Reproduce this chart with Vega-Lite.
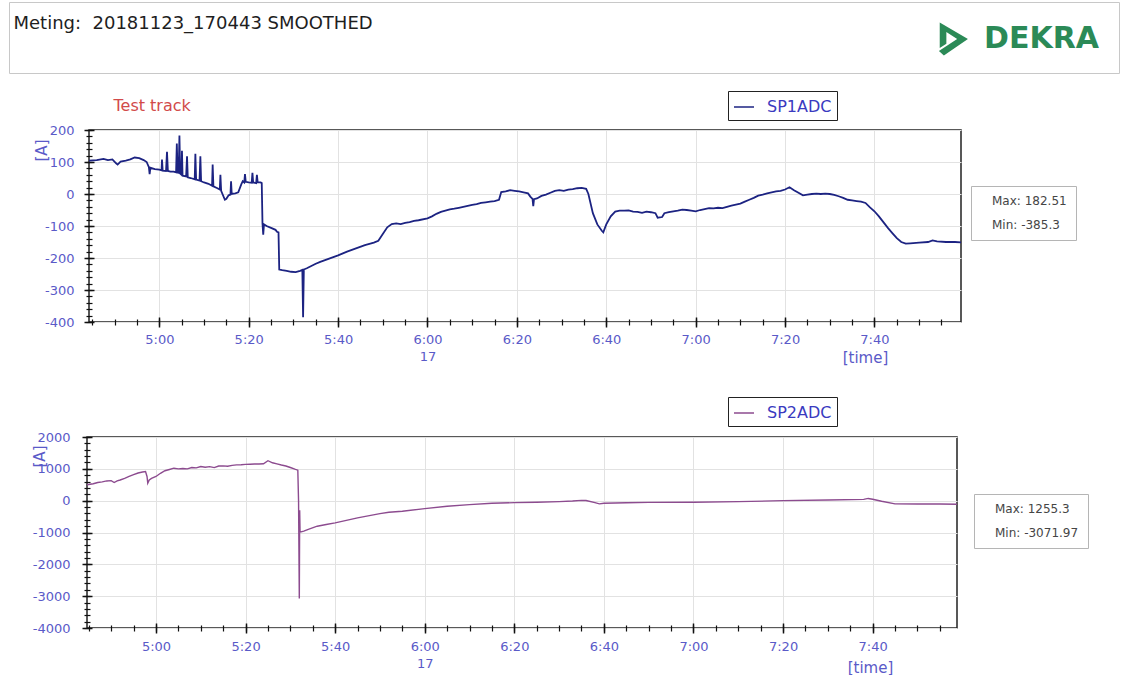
{
  "$schema": "https://vega.github.io/schema/vega-lite/v6.json",
  "background": "white",
  "padding": {"left": 8, "top": 1, "right": 0, "bottom": 0},
  "spacing": 15,
  "resolve": {"scale": {"color": "independent", "shape": "independent"}},
  "vconcat": [
    {
      "width": 1110,
      "height": 71,
      "view": {"stroke": "#c8c8c8", "strokeWidth": 1},
      "data": {"values": [{"brand": "DEKRA"}]},
      "mark": {"type": "point", "opacity": 0, "filled": true, "color": "#2b8a57"},
      "encoding": {
        "x": {"field": "brand", "type": "nominal", "axis": {"orient": "top", "labels": false, "ticks": false, "domain": false, "grid": false, "title": "Meting:\u00a0 20181123_170443 SMOOTHED", "titleX": 4, "titleY": 26, "titleAlign": "left", "titleAnchor": "start", "titleBaseline": "alphabetic", "titleAngle": 0, "titleFont": "DejaVu Sans", "titleFontSize": 18, "titleFontWeight": "normal", "titleColor": "#1e1e1e"}},
        "shape": {
          "field": "brand", "type": "nominal",
          "scale": {"domain": ["DEKRA"], "range": ["M -0.8 -1 L 0.9 0 L -0.55 1 L -0.85 0.72 L 0.25 0 L -0.4 -0.42 L -0.4 0.28 L -0.8 0.55 Z"]},
          "legend": {"orient": "top-right", "offset": 20, "title": null, "padding": 0, "symbolSize": 1100, "symbolOpacity": 1, "symbolFillColor": "#2b8a57", "symbolStrokeColor": "#2b8a57", "symbolStrokeWidth": 0, "labelFont": "DejaVu Sans", "labelFontSize": 30, "labelFontWeight": "bold", "labelColor": "#2b8a57", "labelOffset": 14, "labelLimit": 300}
        }
      }
    },
    {
      "hconcat": [
        {"width": 80, "height": 250, "view": {"stroke": null}, "data": {"values": [{"s": 1}]}, "mark": {"type": "point", "opacity": 0}, "encoding": {}},
        {
          "width": 872,
          "height": 192,
          "view": {"stroke": "#222", "strokeWidth": 1.5},
          "layer": [
            {
              "data": {"values": [
                {"t":"2018-11-17T04:44:16Z","v":104},{"t":"2018-11-17T04:46:00Z","v":106},{"t":"2018-11-17T04:47:30Z","v":110},{"t":"2018-11-17T04:48:30Z","v":106},{"t":"2018-11-17T04:49:30Z","v":108},{"t":"2018-11-17T04:50:20Z","v":96},{"t":"2018-11-17T04:50:40Z","v":92},{"t":"2018-11-17T04:51:20Z","v":101},{"t":"2018-11-17T04:52:30Z","v":104},{"t":"2018-11-17T04:53:30Z","v":108},{"t":"2018-11-17T04:54:30Z","v":114},{"t":"2018-11-17T04:55:30Z","v":112},{"t":"2018-11-17T04:56:30Z","v":106},{"t":"2018-11-17T04:57:10Z","v":100},{"t":"2018-11-17T04:57:40Z","v":84},{"t":"2018-11-17T04:57:50Z","v":62},{"t":"2018-11-17T04:58:00Z","v":82},{"t":"2018-11-17T04:59:00Z","v":78},{"t":"2018-11-17T05:00:00Z","v":76},{"t":"2018-11-17T05:00:30Z","v":74},{"t":"2018-11-17T05:00:36Z","v":108},{"t":"2018-11-17T05:00:45Z","v":73},{"t":"2018-11-17T05:01:30Z","v":72},{"t":"2018-11-17T05:01:43Z","v":132},{"t":"2018-11-17T05:01:55Z","v":72},{"t":"2018-11-17T05:02:30Z","v":70},{"t":"2018-11-17T05:03:10Z","v":70},{"t":"2018-11-17T05:03:45Z","v":68},{"t":"2018-11-17T05:03:55Z","v":158},{"t":"2018-11-17T05:04:05Z","v":67},{"t":"2018-11-17T05:04:20Z","v":66},{"t":"2018-11-17T05:04:30Z","v":182.51},{"t":"2018-11-17T05:04:40Z","v":64},{"t":"2018-11-17T05:04:58Z","v":60},{"t":"2018-11-17T05:05:04Z","v":135},{"t":"2018-11-17T05:05:12Z","v":57},{"t":"2018-11-17T05:06:00Z","v":55},{"t":"2018-11-17T05:06:12Z","v":118},{"t":"2018-11-17T05:06:22Z","v":52},{"t":"2018-11-17T05:07:00Z","v":50},{"t":"2018-11-17T05:07:55Z","v":46},{"t":"2018-11-17T05:08:04Z","v":126},{"t":"2018-11-17T05:08:14Z","v":45},{"t":"2018-11-17T05:09:00Z","v":42},{"t":"2018-11-17T05:09:11Z","v":118},{"t":"2018-11-17T05:09:21Z","v":40},{"t":"2018-11-17T05:10:00Z","v":36},{"t":"2018-11-17T05:11:00Z","v":32},{"t":"2018-11-17T05:11:48Z","v":26},{"t":"2018-11-17T05:11:56Z","v":92},{"t":"2018-11-17T05:12:06Z","v":24},{"t":"2018-11-17T05:13:00Z","v":18},{"t":"2018-11-17T05:13:32Z","v":14},{"t":"2018-11-17T05:13:40Z","v":60},{"t":"2018-11-17T05:13:50Z","v":10},{"t":"2018-11-17T05:14:40Z","v":-18},{"t":"2018-11-17T05:15:00Z","v":-15},{"t":"2018-11-17T05:15:30Z","v":-4},{"t":"2018-11-17T05:15:55Z","v":-2},{"t":"2018-11-17T05:16:03Z","v":40},{"t":"2018-11-17T05:16:12Z","v":0},{"t":"2018-11-17T05:17:00Z","v":2},{"t":"2018-11-17T05:17:40Z","v":5},{"t":"2018-11-17T05:18:20Z","v":30},{"t":"2018-11-17T05:18:40Z","v":40},{"t":"2018-11-17T05:19:00Z","v":36},{"t":"2018-11-17T05:19:10Z","v":62},{"t":"2018-11-17T05:19:20Z","v":38},{"t":"2018-11-17T05:20:00Z","v":36},{"t":"2018-11-17T05:20:40Z","v":35},{"t":"2018-11-17T05:20:50Z","v":66},{"t":"2018-11-17T05:21:00Z","v":36},{"t":"2018-11-17T05:21:40Z","v":34},{"t":"2018-11-17T05:21:50Z","v":60},{"t":"2018-11-17T05:22:00Z","v":37},{"t":"2018-11-17T05:22:40Z","v":36},{"t":"2018-11-17T05:22:55Z","v":34},{"t":"2018-11-17T05:23:05Z","v":-92},{"t":"2018-11-17T05:23:15Z","v":-127},{"t":"2018-11-17T05:23:25Z","v":-95},{"t":"2018-11-17T05:24:00Z","v":-100},{"t":"2018-11-17T05:25:00Z","v":-106},{"t":"2018-11-17T05:26:00Z","v":-112},{"t":"2018-11-17T05:26:20Z","v":-118},{"t":"2018-11-17T05:26:40Z","v":-120},{"t":"2018-11-17T05:26:50Z","v":-236},{"t":"2018-11-17T05:27:30Z","v":-238},{"t":"2018-11-17T05:28:30Z","v":-240},{"t":"2018-11-17T05:29:30Z","v":-243},{"t":"2018-11-17T05:30:30Z","v":-244},{"t":"2018-11-17T05:31:30Z","v":-240},{"t":"2018-11-17T05:32:00Z","v":-237},{"t":"2018-11-17T05:32:10Z","v":-385.3},{"t":"2018-11-17T05:32:20Z","v":-236},{"t":"2018-11-17T05:33:00Z","v":-232},{"t":"2018-11-17T05:34:00Z","v":-225},{"t":"2018-11-17T05:35:00Z","v":-218},{"t":"2018-11-17T05:36:00Z","v":-212},{"t":"2018-11-17T05:38:00Z","v":-202},{"t":"2018-11-17T05:40:00Z","v":-192},{"t":"2018-11-17T05:42:00Z","v":-180},{"t":"2018-11-17T05:44:00Z","v":-170},{"t":"2018-11-17T05:46:00Z","v":-160},{"t":"2018-11-17T05:48:00Z","v":-152},{"t":"2018-11-17T05:49:00Z","v":-146},{"t":"2018-11-17T05:50:00Z","v":-125},{"t":"2018-11-17T05:51:00Z","v":-104},{"t":"2018-11-17T05:52:00Z","v":-94},{"t":"2018-11-17T05:53:00Z","v":-92},{"t":"2018-11-17T05:54:00Z","v":-94},{"t":"2018-11-17T05:55:00Z","v":-90},{"t":"2018-11-17T05:56:00Z","v":-88},{"t":"2018-11-17T05:57:00Z","v":-84},{"t":"2018-11-17T05:58:00Z","v":-82},{"t":"2018-11-17T06:00:00Z","v":-76},{"t":"2018-11-17T06:01:00Z","v":-70},{"t":"2018-11-17T06:02:00Z","v":-62},{"t":"2018-11-17T06:03:00Z","v":-56},{"t":"2018-11-17T06:04:00Z","v":-52},{"t":"2018-11-17T06:05:00Z","v":-48},{"t":"2018-11-17T06:06:00Z","v":-46},{"t":"2018-11-17T06:07:00Z","v":-43},{"t":"2018-11-17T06:08:00Z","v":-40},{"t":"2018-11-17T06:09:00Z","v":-37},{"t":"2018-11-17T06:10:00Z","v":-34},{"t":"2018-11-17T06:11:00Z","v":-32},{"t":"2018-11-17T06:12:00Z","v":-28},{"t":"2018-11-17T06:13:00Z","v":-26},{"t":"2018-11-17T06:14:00Z","v":-24},{"t":"2018-11-17T06:15:00Z","v":-22},{"t":"2018-11-17T06:16:00Z","v":-18},{"t":"2018-11-17T06:16:30Z","v":6},{"t":"2018-11-17T06:17:30Z","v":8},{"t":"2018-11-17T06:18:30Z","v":12},{"t":"2018-11-17T06:19:30Z","v":10},{"t":"2018-11-17T06:20:30Z","v":8},{"t":"2018-11-17T06:21:30Z","v":5},{"t":"2018-11-17T06:22:30Z","v":2},{"t":"2018-11-17T06:23:00Z","v":-8},{"t":"2018-11-17T06:23:30Z","v":-15},{"t":"2018-11-17T06:23:40Z","v":-38},{"t":"2018-11-17T06:23:50Z","v":-16},{"t":"2018-11-17T06:24:30Z","v":-14},{"t":"2018-11-17T06:25:30Z","v":-6},{"t":"2018-11-17T06:26:30Z","v":-2},{"t":"2018-11-17T06:27:30Z","v":4},{"t":"2018-11-17T06:28:30Z","v":10},{"t":"2018-11-17T06:29:30Z","v":12},{"t":"2018-11-17T06:30:30Z","v":10},{"t":"2018-11-17T06:31:30Z","v":14},{"t":"2018-11-17T06:32:30Z","v":15},{"t":"2018-11-17T06:33:30Z","v":18},{"t":"2018-11-17T06:34:30Z","v":19},{"t":"2018-11-17T06:35:30Z","v":16},{"t":"2018-11-17T06:36:00Z","v":0},{"t":"2018-11-17T06:37:00Z","v":-60},{"t":"2018-11-17T06:38:00Z","v":-95},{"t":"2018-11-17T06:39:00Z","v":-115},{"t":"2018-11-17T06:39:20Z","v":-120},{"t":"2018-11-17T06:40:00Z","v":-95},{"t":"2018-11-17T06:41:00Z","v":-70},{"t":"2018-11-17T06:42:00Z","v":-55},{"t":"2018-11-17T06:43:00Z","v":-52},{"t":"2018-11-17T06:44:00Z","v":-52},{"t":"2018-11-17T06:45:00Z","v":-51},{"t":"2018-11-17T06:46:00Z","v":-55},{"t":"2018-11-17T06:47:00Z","v":-56},{"t":"2018-11-17T06:48:00Z","v":-59},{"t":"2018-11-17T06:49:00Z","v":-55},{"t":"2018-11-17T06:50:00Z","v":-57},{"t":"2018-11-17T06:51:00Z","v":-60},{"t":"2018-11-17T06:51:30Z","v":-74},{"t":"2018-11-17T06:52:30Z","v":-72},{"t":"2018-11-17T06:53:00Z","v":-60},{"t":"2018-11-17T06:54:00Z","v":-57},{"t":"2018-11-17T06:55:00Z","v":-54},{"t":"2018-11-17T06:56:00Z","v":-52},{"t":"2018-11-17T06:57:00Z","v":-49},{"t":"2018-11-17T06:58:00Z","v":-50},{"t":"2018-11-17T06:59:00Z","v":-52},{"t":"2018-11-17T07:00:00Z","v":-54},{"t":"2018-11-17T07:01:00Z","v":-50},{"t":"2018-11-17T07:02:00Z","v":-47},{"t":"2018-11-17T07:03:00Z","v":-44},{"t":"2018-11-17T07:04:00Z","v":-45},{"t":"2018-11-17T07:05:00Z","v":-43},{"t":"2018-11-17T07:06:00Z","v":-44},{"t":"2018-11-17T07:07:00Z","v":-40},{"t":"2018-11-17T07:08:00Z","v":-36},{"t":"2018-11-17T07:09:00Z","v":-33},{"t":"2018-11-17T07:10:00Z","v":-30},{"t":"2018-11-17T07:11:00Z","v":-24},{"t":"2018-11-17T07:12:00Z","v":-18},{"t":"2018-11-17T07:13:00Z","v":-12},{"t":"2018-11-17T07:14:00Z","v":-5},{"t":"2018-11-17T07:15:00Z","v":-2},{"t":"2018-11-17T07:16:00Z","v":2},{"t":"2018-11-17T07:17:00Z","v":5},{"t":"2018-11-17T07:18:00Z","v":8},{"t":"2018-11-17T07:19:00Z","v":10},{"t":"2018-11-17T07:20:00Z","v":14},{"t":"2018-11-17T07:21:00Z","v":21},{"t":"2018-11-17T07:22:00Z","v":12},{"t":"2018-11-17T07:23:00Z","v":4},{"t":"2018-11-17T07:24:00Z","v":-4},{"t":"2018-11-17T07:25:00Z","v":-2},{"t":"2018-11-17T07:26:00Z","v":0},{"t":"2018-11-17T07:27:00Z","v":1},{"t":"2018-11-17T07:28:00Z","v":0},{"t":"2018-11-17T07:29:00Z","v":1},{"t":"2018-11-17T07:30:00Z","v":0},{"t":"2018-11-17T07:31:00Z","v":-3},{"t":"2018-11-17T07:32:00Z","v":-7},{"t":"2018-11-17T07:33:00Z","v":-12},{"t":"2018-11-17T07:34:00Z","v":-18},{"t":"2018-11-17T07:35:00Z","v":-20},{"t":"2018-11-17T07:36:00Z","v":-22},{"t":"2018-11-17T07:37:00Z","v":-24},{"t":"2018-11-17T07:38:00Z","v":-28},{"t":"2018-11-17T07:39:00Z","v":-42},{"t":"2018-11-17T07:40:00Z","v":-54},{"t":"2018-11-17T07:41:00Z","v":-70},{"t":"2018-11-17T07:42:00Z","v":-88},{"t":"2018-11-17T07:43:00Z","v":-106},{"t":"2018-11-17T07:44:00Z","v":-122},{"t":"2018-11-17T07:45:00Z","v":-138},{"t":"2018-11-17T07:46:00Z","v":-150},{"t":"2018-11-17T07:47:00Z","v":-155},{"t":"2018-11-17T07:48:00Z","v":-154},{"t":"2018-11-17T07:50:00Z","v":-152},{"t":"2018-11-17T07:52:00Z","v":-150},{"t":"2018-11-17T07:53:00Z","v":-145},{"t":"2018-11-17T07:54:00Z","v":-148},{"t":"2018-11-17T07:56:00Z","v":-150},{"t":"2018-11-17T07:58:00Z","v":-150},{"t":"2018-11-17T07:59:22Z","v":-151}
              ]},
              "mark": {"type": "line", "strokeWidth": 1.8, "clip": true},
              "encoding": {
                "x": {"field": "t", "type": "temporal",
                  "scale": {"type": "utc", "domain": [1542429856000, 1542441562000], "nice": false},
                  "axis": {"orient": "bottom", "values": [1542430800000, 1542432000000, 1542433200000, 1542434400000, 1542435600000, 1542436800000, 1542438000000, 1542439200000, 1542440400000], "labelExpr": "utchours(datum.value) == 6 && utcminutes(datum.value) == 0 ? ['6:00', '17'] : utcFormat(datum.value, '%-H:%M')", "labelLineHeight": 17, "labelFont": "DejaVu Sans", "labelFontSize": 13, "labelColor": "#5a5ac8", "labelPadding": 6, "labelOverlap": false, "labelFlush": false, "grid": true, "gridColor": "#e2e2e2", "domain": false, "offset": -5, "tickSize": 10, "tickColor": "#111", "tickWidth": 1.5, "title": "[time]", "titleX": 776, "titleY": 40, "titleAlign": "center", "titleBaseline": "middle", "titleFont": "DejaVu Sans", "titleFontSize": 15, "titleFontWeight": "normal", "titleColor": "#5a5ac8"}},
                "y": {"field": "v", "type": "quantitative",
                  "scale": {"domain": [-400, 200], "nice": false, "zero": false},
                  "axis": {"orient": "left", "values": [-400, -300, -200, -100, 0, 100, 200], "labelExpr": "'' + datum.value", "labelFont": "DejaVu Sans", "labelFontSize": 13, "labelColor": "#5a5ac8", "labelPadding": 10, "grid": true, "gridColor": "#e2e2e2", "domain": false, "offset": -5, "tickSize": 10, "tickColor": "#111", "tickWidth": 1.5, "title": "[A]", "titleX": -53, "titleY": 20, "titleAlign": "center", "titleBaseline": "middle", "titleFont": "DejaVu Sans", "titleFontSize": 15, "titleFontWeight": "normal", "titleColor": "#5a5ac8"}},
                "color": {"datum": "SP1ADC", "type": "nominal", "scale": {"domain": ["SP1ADC"], "range": ["#1c2382"]},
                  "legend": {"orient": "none", "legendX": 639, "legendY": -39, "title": null, "strokeColor": "#222", "padding": 5, "symbolType": "stroke", "symbolSize": 400, "symbolStrokeWidth": 1.5, "labelOffset": 12, "labelFont": "DejaVu Sans", "labelFontSize": 16, "labelColor": "#3a3ac0", "labelLimit": 400}}
              }
            },
            {
              "data": {"values": [{"t": "2018-11-17T05:04:30Z", "v": 182.51, "stat": "Max: 182.51"}, {"t": "2018-11-17T05:32:10Z", "v": -385.3, "stat": "Min: -385.3"}]},
              "mark": {"type": "point", "opacity": 0},
              "encoding": {
                "x": {"field": "t", "type": "temporal", "axis": {"orient": "bottom", "values": [1542429900000,1542430200000,1542430500000,1542430800000,1542431100000,1542431400000,1542431700000,1542432000000,1542432300000,1542432600000,1542432900000,1542433200000,1542433500000,1542433800000,1542434100000,1542434400000,1542434700000,1542435000000,1542435300000,1542435600000,1542435900000,1542436200000,1542436500000,1542436800000,1542437100000,1542437400000,1542437700000,1542438000000,1542438300000,1542438600000,1542438900000,1542439200000,1542439500000,1542439800000,1542440100000,1542440400000,1542440700000,1542441000000,1542441300000], "labels": false, "grid": false, "domain": false, "offset": -3, "tickSize": 6, "tickColor": "#111", "tickWidth": 1.2, "title": "Test track", "titleX": 24, "titleY": -209, "titleAlign": "left", "titleAnchor": "start", "titleBaseline": "alphabetic", "titleFont": "DejaVu Sans", "titleFontSize": 16, "titleFontWeight": "normal", "titleColor": "#d24a4a"}},
                "y": {"field": "v", "type": "quantitative", "axis": {"orient": "left", "tickCount": 30, "labels": false, "grid": false, "domain": false, "offset": -3, "tickSize": 6, "tickColor": "#111", "tickWidth": 1.2, "title": null}},
                "shape": {"field": "stat", "type": "nominal",
                  "legend": {"orient": "none", "legendX": 882, "legendY": 56, "title": null, "strokeColor": "#b5b5b5", "padding": 9, "rowPadding": 12, "symbolSize": 1, "symbolOpacity": 0, "labelOffset": 0, "labelFont": "DejaVu Sans", "labelFontSize": 12, "labelColor": "#454545", "labelLimit": 400}}
              }
            }
          ],
          "resolve": {"axis": {"x": "independent", "y": "independent"}}
        }
      ],
      "spacing": 0,
      "bounds": "flush",
      "resolve": {"scale": {"color": "independent", "shape": "independent"}}
    },
    {
      "hconcat": [
        {"width": 78, "height": 10, "view": {"stroke": null}, "data": {"values": [{"s": 1}]}, "mark": {"type": "point", "opacity": 0}, "encoding": {}},
        {
          "width": 870,
          "height": 191,
          "view": {"stroke": "#222", "strokeWidth": 1.5},
          "layer": [
            {
              "data": {"values": [
                {"t":"2018-11-17T04:44:36Z","v":500},{"t":"2018-11-17T04:46:00Z","v":530},{"t":"2018-11-17T04:47:00Z","v":570},{"t":"2018-11-17T04:48:00Z","v":590},{"t":"2018-11-17T04:49:00Z","v":620},{"t":"2018-11-17T04:50:00Z","v":630},{"t":"2018-11-17T04:50:40Z","v":570},{"t":"2018-11-17T04:51:20Z","v":620},{"t":"2018-11-17T04:52:00Z","v":650},{"t":"2018-11-17T04:53:00Z","v":700},{"t":"2018-11-17T04:54:00Z","v":760},{"t":"2018-11-17T04:55:00Z","v":820},{"t":"2018-11-17T04:56:00Z","v":870},{"t":"2018-11-17T04:57:00Z","v":900},{"t":"2018-11-17T04:57:40Z","v":917},{"t":"2018-11-17T04:58:00Z","v":760},{"t":"2018-11-17T04:58:10Z","v":550},{"t":"2018-11-17T04:58:30Z","v":650},{"t":"2018-11-17T04:59:00Z","v":700},{"t":"2018-11-17T05:00:00Z","v":760},{"t":"2018-11-17T05:01:00Z","v":860},{"t":"2018-11-17T05:02:00Z","v":940},{"t":"2018-11-17T05:03:00Z","v":980},{"t":"2018-11-17T05:04:00Z","v":1020},{"t":"2018-11-17T05:05:00Z","v":1000},{"t":"2018-11-17T05:06:00Z","v":1010},{"t":"2018-11-17T05:07:00Z","v":1000},{"t":"2018-11-17T05:08:00Z","v":1040},{"t":"2018-11-17T05:09:00Z","v":1030},{"t":"2018-11-17T05:10:00Z","v":1073},{"t":"2018-11-17T05:11:00Z","v":1050},{"t":"2018-11-17T05:12:00Z","v":1070},{"t":"2018-11-17T05:13:00Z","v":1040},{"t":"2018-11-17T05:14:00Z","v":1090},{"t":"2018-11-17T05:15:00Z","v":1094},{"t":"2018-11-17T05:16:00Z","v":1080},{"t":"2018-11-17T05:17:00Z","v":1110},{"t":"2018-11-17T05:18:00Z","v":1125},{"t":"2018-11-17T05:19:00Z","v":1130},{"t":"2018-11-17T05:20:00Z","v":1140},{"t":"2018-11-17T05:21:00Z","v":1146},{"t":"2018-11-17T05:22:00Z","v":1150},{"t":"2018-11-17T05:23:00Z","v":1152},{"t":"2018-11-17T05:24:00Z","v":1160},{"t":"2018-11-17T05:25:00Z","v":1255.3},{"t":"2018-11-17T05:26:00Z","v":1190},{"t":"2018-11-17T05:27:00Z","v":1156},{"t":"2018-11-17T05:28:00Z","v":1120},{"t":"2018-11-17T05:29:00Z","v":1090},{"t":"2018-11-17T05:30:00Z","v":1042},{"t":"2018-11-17T05:31:00Z","v":990},{"t":"2018-11-17T05:31:40Z","v":958},{"t":"2018-11-17T05:31:50Z","v":-20},{"t":"2018-11-17T05:32:00Z","v":-3071.97},{"t":"2018-11-17T05:32:05Z","v":-300},{"t":"2018-11-17T05:32:10Z","v":-990},{"t":"2018-11-17T05:33:00Z","v":-958},{"t":"2018-11-17T05:34:00Z","v":-900},{"t":"2018-11-17T05:36:00Z","v":-802},{"t":"2018-11-17T05:38:00Z","v":-750},{"t":"2018-11-17T05:40:00Z","v":-698},{"t":"2018-11-17T05:45:00Z","v":-542},{"t":"2018-11-17T05:50:00Z","v":-406},{"t":"2018-11-17T05:52:00Z","v":-365},{"t":"2018-11-17T05:55:00Z","v":-333},{"t":"2018-11-17T06:00:00Z","v":-250},{"t":"2018-11-17T06:05:00Z","v":-177},{"t":"2018-11-17T06:10:00Z","v":-125},{"t":"2018-11-17T06:15:00Z","v":-83},{"t":"2018-11-17T06:20:00Z","v":-62},{"t":"2018-11-17T06:25:00Z","v":-50},{"t":"2018-11-17T06:30:00Z","v":-30},{"t":"2018-11-17T06:33:00Z","v":-10},{"t":"2018-11-17T06:35:00Z","v":10},{"t":"2018-11-17T06:36:00Z","v":5},{"t":"2018-11-17T06:38:00Z","v":-60},{"t":"2018-11-17T06:39:00Z","v":-100},{"t":"2018-11-17T06:40:00Z","v":-80},{"t":"2018-11-17T06:45:00Z","v":-65},{"t":"2018-11-17T06:50:00Z","v":-55},{"t":"2018-11-17T07:00:00Z","v":-52},{"t":"2018-11-17T07:10:00Z","v":-31},{"t":"2018-11-17T07:20:00Z","v":0},{"t":"2018-11-17T07:30:00Z","v":21},{"t":"2018-11-17T07:38:00Z","v":42},{"t":"2018-11-17T07:39:00Z","v":70},{"t":"2018-11-17T07:40:00Z","v":45},{"t":"2018-11-17T07:42:00Z","v":-20},{"t":"2018-11-17T07:45:00Z","v":-100},{"t":"2018-11-17T07:50:00Z","v":-104},{"t":"2018-11-17T07:55:00Z","v":-104},{"t":"2018-11-17T07:58:50Z","v":-112}
              ]},
              "mark": {"type": "line", "strokeWidth": 1.4, "clip": true},
              "encoding": {
                "x": {"field": "t", "type": "temporal",
                  "scale": {"type": "utc", "domain": [1542429876000, 1542441530000], "nice": false},
                  "axis": {"orient": "bottom", "values": [1542430800000, 1542432000000, 1542433200000, 1542434400000, 1542435600000, 1542436800000, 1542438000000, 1542439200000, 1542440400000], "labelExpr": "utchours(datum.value) == 6 && utcminutes(datum.value) == 0 ? ['6:00', '17'] : utcFormat(datum.value, '%-H:%M')", "labelLineHeight": 17, "labelFont": "DejaVu Sans", "labelFontSize": 13, "labelColor": "#5a5ac8", "labelPadding": 7, "labelOverlap": false, "labelFlush": false, "grid": true, "gridColor": "#e2e2e2", "domain": false, "offset": -5, "tickSize": 10, "tickColor": "#111", "tickWidth": 1.5, "title": "[time]", "titleX": 783, "titleY": 44, "titleAlign": "center", "titleBaseline": "middle", "titleFont": "DejaVu Sans", "titleFontSize": 15, "titleFontWeight": "normal", "titleColor": "#5a5ac8"}},
                "y": {"field": "v", "type": "quantitative",
                  "scale": {"domain": [-4000, 2000], "nice": false, "zero": false},
                  "axis": {"orient": "left", "values": [-4000, -3000, -2000, -1000, 0, 1000, 2000], "labelExpr": "'' + datum.value", "labelFont": "DejaVu Sans", "labelFontSize": 13, "labelColor": "#5a5ac8", "labelPadding": 12, "grid": true, "gridColor": "#e2e2e2", "domain": false, "offset": -5, "tickSize": 10, "tickColor": "#111", "tickWidth": 1.5, "title": "[A]", "titleX": -53, "titleY": 19, "titleAlign": "center", "titleBaseline": "middle", "titleFont": "DejaVu Sans", "titleFontSize": 15, "titleFontWeight": "normal", "titleColor": "#5a5ac8"}},
                "color": {"datum": "SP2ADC", "type": "nominal", "scale": {"domain": ["SP2ADC"], "range": ["#8c4b8f"]},
                  "legend": {"orient": "none", "legendX": 641, "legendY": -40, "title": null, "strokeColor": "#222", "padding": 5, "symbolType": "stroke", "symbolSize": 400, "symbolStrokeWidth": 1.5, "labelOffset": 12, "labelFont": "DejaVu Sans", "labelFontSize": 16, "labelColor": "#3a3ac0", "labelLimit": 400}}
              }
            },
            {
              "data": {"values": [{"t": "2018-11-17T05:25:00Z", "v": 1255.3, "stat": "Max: 1255.3"}, {"t": "2018-11-17T05:32:00Z", "v": -3071.97, "stat": "Min: -3071.97"}]},
              "mark": {"type": "point", "opacity": 0},
              "encoding": {
                "x": {"field": "t", "type": "temporal", "axis": {"orient": "bottom", "values": [1542429900000,1542430200000,1542430500000,1542430800000,1542431100000,1542431400000,1542431700000,1542432000000,1542432300000,1542432600000,1542432900000,1542433200000,1542433500000,1542433800000,1542434100000,1542434400000,1542434700000,1542435000000,1542435300000,1542435600000,1542435900000,1542436200000,1542436500000,1542436800000,1542437100000,1542437400000,1542437700000,1542438000000,1542438300000,1542438600000,1542438900000,1542439200000,1542439500000,1542439800000,1542440100000,1542440400000,1542440700000,1542441000000,1542441300000], "labels": false, "grid": false, "domain": false, "offset": -3, "tickSize": 6, "tickColor": "#111", "tickWidth": 1.2, "title": null}},
                "y": {"field": "v", "type": "quantitative", "axis": {"orient": "left", "tickCount": 30, "labels": false, "grid": false, "domain": false, "offset": -3, "tickSize": 6, "tickColor": "#111", "tickWidth": 1.2, "title": null}},
                "shape": {"field": "stat", "type": "nominal",
                  "legend": {"orient": "none", "legendX": 887, "legendY": 57, "title": null, "strokeColor": "#b5b5b5", "padding": 9, "rowPadding": 12, "symbolSize": 1, "symbolOpacity": 0, "labelOffset": 0, "labelFont": "DejaVu Sans", "labelFontSize": 12, "labelColor": "#454545", "labelLimit": 400}}
              }
            }
          ],
          "resolve": {"axis": {"x": "independent", "y": "independent"}}
        }
      ],
      "spacing": 0,
      "bounds": "flush",
      "resolve": {"scale": {"color": "independent", "shape": "independent"}}
    }
  ]
}
